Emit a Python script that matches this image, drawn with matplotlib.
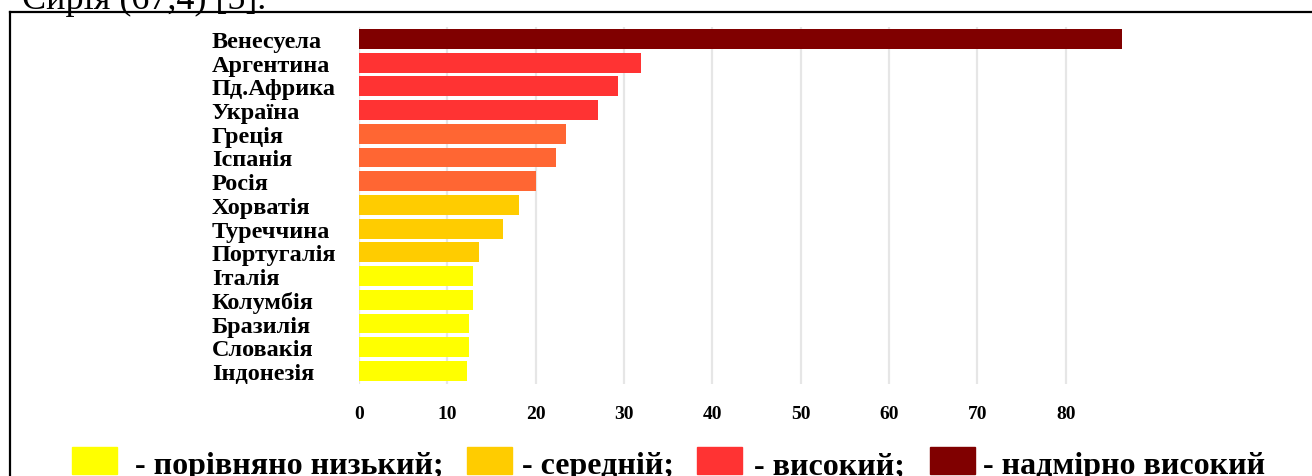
import matplotlib
matplotlib.use('Agg')
import matplotlib.pyplot as plt
from matplotlib.patches import Rectangle
from matplotlib.lines import Line2D

plt.rcParams['font.family'] = ['Liberation Serif', 'DejaVu Serif']

# дані
countries = ['Венесуела', 'Аргентина', 'Пд.Африка', 'Україна', 'Греція', 'Іспанія', 'Росія',
             'Хорватія', 'Туреччина', 'Португалія', 'Італія', 'Колумбія', 'Бразилія',
             'Словакія', 'Індонезія']
values = [86.4, 31.9, 29.3, 27.0, 23.4, 22.3, 20.0, 18.1, 16.3, 13.6, 12.9, 12.9, 12.5, 12.5, 12.2]
levels = ['extreme', 'high', 'high', 'high', 'upper', 'upper', 'upper',
          'medium', 'medium', 'medium', 'low', 'low', 'low', 'low', 'low']
x_ticks = [0, 10, 20, 30, 40, 50, 60, 70, 80]

level_colors = {'low': '#FFFF00', 'medium': '#FFCC00', 'upper': '#FF6633',
                'high': '#FF3333', 'extreme': '#800000'}
legend_levels = ['low', 'medium', 'high', 'extreme']
legend_labels = ['- порівняно низький;', '- середній;', '- високий;', '- надмірно високий']

W, H = 1312, 477
fig = plt.figure(figsize=(W / 100, H / 100), dpi=100)

# область графіка (в пікселях)
x0, x1 = 359, 1133
y_top, y_bot = 28, 385
ax = fig.add_axes([x0 / W, 1 - y_bot / H, (x1 - x0) / W, (y_bot - y_top) / H])

pos = list(range(len(countries)))
ax.barh(pos, values, height=0.84, color=[level_colors[l] for l in levels], zorder=2)
ax.set_xlim(0, 87.6)
ax.set_ylim(14.55, -0.5)

ax.set_xticks(x_ticks)
ax.set_xticklabels([str(t) for t in x_ticks], fontsize=14, fontweight='bold')
ax.set_yticks(pos)
ax.set_yticklabels(countries, fontsize=17.5, fontweight='bold', ha='left')
ax.tick_params(axis='y', length=0, pad=106)
ax.tick_params(axis='x', length=0, pad=15)
ax.grid(axis='x', color='#E6E6E6', linewidth=1.6, zorder=0)
for s in ax.spines.values():
    s.set_visible(False)

# рамка
fig.add_artist(Line2D([10 / W, 10 / W], [1 - 13 / H, 0], color='black', linewidth=1.6))
fig.add_artist(Line2D([10 / W, 1], [1 - 13 / H, 1 - 13 / H], color='black', linewidth=1.6))

# текст над рамкою
fig.text(22 / W, 1 - 9 / H, 'Сирія (67,4) [5].', fontsize=26, va='baseline', ha='left')

# легенда
sq_x = [72, 467, 697, 930]
txt_x = [135, 522, 754, 983]
for lv, lab, sx, tx in zip(legend_levels, legend_labels, sq_x, txt_x):
    fig.add_artist(Rectangle((sx / W, 1 - 475 / H), 45 / W, 27 / H,
                             transform=fig.transFigure, color=level_colors[lv]))
    fig.text(tx / W, 1 - 474 / H, lab, fontsize=23, fontweight='bold', va='baseline', ha='left')

fig.savefig('out.png', dpi=100)
